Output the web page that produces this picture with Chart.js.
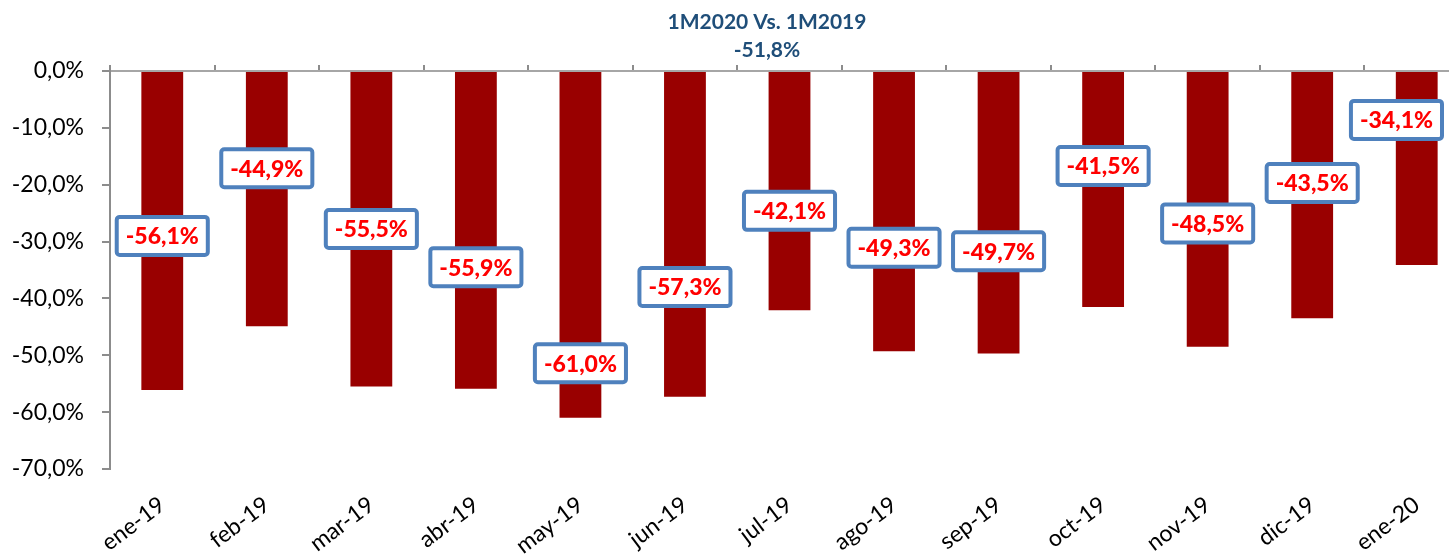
<!DOCTYPE html>
<html>
<head>
<meta charset="utf-8">
<script src="https://cdn.jsdelivr.net/npm/chart.js@4.4.1/dist/chart.umd.min.js"></script>
<style>
  html, body { margin: 0; padding: 0; background: #ffffff; overflow: hidden; }
  #wrap { position: relative; width: 1469px; height: 555px; }
</style>
</head>
<body>
<div id="wrap"><canvas id="chart-variacion"></canvas></div>
<script>
// Variación interanual mensual (%)
const categories = ['ene-19', 'feb-19', 'mar-19', 'abr-19', 'may-19', 'jun-19', 'jul-19',
                    'ago-19', 'sep-19', 'oct-19', 'nov-19', 'dic-19', 'ene-20'];
const variation = [-56.1, -44.9, -55.5, -55.9, -61.0, -57.3, -42.1, -49.3, -49.7, -41.5, -48.5, -43.5, -34.1];
// altura (en % del eje) donde está colocada cada etiqueta
const labelAt = [-29.0, -17.1, -27.8, -34.5, -51.4, -38.0, -24.6, -31.1, -31.7, -16.7, -26.8, -19.7, -8.6];
const yTicks = [0, -10, -20, -30, -40, -50, -60, -70];
const titleLines = ['1M2020 Vs. 1M2019', '-51,8%'];

const FONT = 'Lato, "Open Sans", sans-serif';
const AXIS_GRAY = '#8c8c8c';

function pct(v) {
    return v.toFixed(1).replace('.', ',') + '%';
}

// Etiquetas con recuadro azul
const boxLabels = {
    id: 'boxLabels',
    afterDatasetsDraw(chart) {
        const { ctx, scales: { y } } = chart;
        const meta = chart.getDatasetMeta(0);
        const maxRight = window.innerWidth - 5;
        ctx.save();
        ctx.font = '900 23px ' + FONT;
        ctx.textAlign = 'center';
        ctx.textBaseline = 'middle';
        meta.data.forEach((bar, i) => {
            const text = pct(variation[i]);
            const w = ctx.measureText(text).width + 18;
            const h = 38;
            let cx = bar.x;
            if (cx + w / 2 + 2 > maxRight) cx = maxRight - w / 2 - 2;
            const cy = y.getPixelForValue(labelAt[i]);
            ctx.beginPath();
            ctx.roundRect(cx - w / 2, cy - h / 2, w, h, 3);
            ctx.fillStyle = '#ffffff';
            ctx.fill();
            ctx.lineWidth = 4;
            ctx.strokeStyle = '#4f81bd';
            ctx.stroke();
            ctx.fillStyle = '#ff0000';
            ctx.fillText(text, cx, cy + 1);
        });
        ctx.restore();
    }
};

// Título centrado arriba
const topTitle = {
    id: 'topTitle',
    afterDraw(chart) {
        const { ctx } = chart;
        ctx.save();
        ctx.font = 'bold 21px ' + FONT;
        ctx.fillStyle = '#1f4e79';
        ctx.textAlign = 'center';
        ctx.textBaseline = 'middle';
        titleLines.forEach((line, i) => {
            ctx.fillText(line, 767, 22 + i * 28);
        });
        ctx.restore();
    }
};

new Chart(document.getElementById('chart-variacion'), {
    type: 'bar',
    data: {
        labels: categories,
        datasets: [{
            data: variation,
            backgroundColor: '#990000',
            borderWidth: 0,
            categoryPercentage: 1.0,
            barPercentage: 0.4
        }]
    },
    options: {
        responsive: true,
        maintainAspectRatio: false,
        animation: false,
        layout: { padding: 0 },
        plugins: {
            legend: { display: false },
            tooltip: { enabled: false },
            title: { display: false }
        },
        scales: {
            x: {
                position: 'bottom',
                grid: { display: false },
                border: { display: false },
                ticks: {
                    color: '#000000',
                    font: { family: FONT, size: 23 },
                    minRotation: 37,
                    maxRotation: 37,
                    padding: 14
                },
                afterFit(scale) { scale.height = 86; }
            },
            x2: {
                type: 'category',
                labels: categories,
                position: 'top',
                offset: true,
                grid: {
                    drawOnChartArea: false,
                    drawTicks: true,
                    tickLength: 6,
                    color: AXIS_GRAY,
                    lineWidth: 2
                },
                border: { display: true, color: '#a6a6a6', width: 2 },
                ticks: { display: false },
                afterFit(scale) { scale.height = 71; }
            },
            y: {
                min: -70,
                max: 0,
                afterBuildTicks(scale) {
                    scale.ticks = yTicks.map(v => ({ value: v }));
                },
                grid: {
                    drawOnChartArea: false,
                    drawTicks: true,
                    tickLength: 8,
                    color: AXIS_GRAY,
                    lineWidth: 2
                },
                border: { display: true, color: AXIS_GRAY, width: 2 },
                ticks: {
                    color: '#000000',
                    font: { family: FONT, size: 23 },
                    padding: 18,
                    callback: v => pct(v)
                },
                afterFit(scale) { scale.width = 110; }
            }
        }
    },
    plugins: [boxLabels, topTitle]
});
</script>
</body>
</html>
